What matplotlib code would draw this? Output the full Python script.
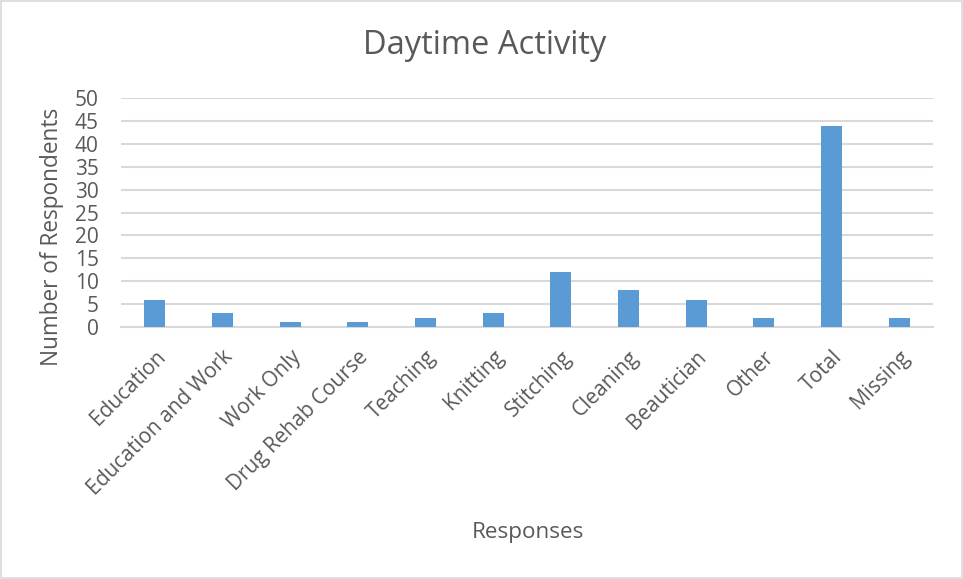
import matplotlib
matplotlib.use("Agg")
from matplotlib import pyplot as plt
import numpy as np

plt.rcParams['font.family'] = ['Open Sans', 'DejaVu Sans']

categories = ['Education', 'Education and Work', 'Work Only', 'Drug Rehab Course',
              'Teaching', 'Knitting', 'Stitching', 'Cleaning', 'Beautician',
              'Other', 'Total', 'Missing']
counts = [6, 3, 1, 1, 2, 3, 12, 8, 6, 2, 44, 2]
yticks = [0, 5, 10, 15, 20, 25, 30, 35, 40, 45, 50]

grey = '#595959'
grid = '#d9d9d9'
blue = '#5b9bd5'

fig = plt.figure(figsize=(9.63, 5.79), dpi=100)
ax = fig.add_axes([0.1257, 0.4352, 0.8433, 0.3955])

x = np.arange(len(categories))
ax.bar(x, counts, 0.31, color=blue, zorder=3)

ax.set_xlim(-0.5, len(categories) - 0.5)
ax.set_ylim(0, 50)
ax.set_yticks(yticks)
ax.set_xticks(x)
ax.set_xticklabels(categories, rotation=45, ha='right', rotation_mode='anchor')

ax.yaxis.grid(True, color=grid, linewidth=1.5, zorder=0)
for s in ['top', 'right', 'left']:
    ax.spines[s].set_visible(False)
ax.spines['bottom'].set_color(grid)
ax.spines['bottom'].set_linewidth(1.5)
ax.tick_params(axis='both', length=0, colors=grey, labelsize=15)
ax.tick_params(axis='x', pad=14)
ax.tick_params(axis='y', pad=16)

# axis titles and chart title
fig.text(52 / 963, 1 - 237 / 579, 'Number of Respondents', rotation=90,
         color=grey, fontsize=16.3, ha='center', va='center')
fig.text(0.548, 0.081, 'Responses', color=grey, fontsize=16.2, ha='center', va='center')
fig.text(0.503, 0.922, 'Daytime Activity', color=grey, fontsize=23.5, ha='center', va='center')

# thin frame round the chart area
fig.patches.append(plt.Rectangle((0.001, 0.001), 0.998, 0.997, transform=fig.transFigure,
                                 fill=False, edgecolor='#d9d9d9', linewidth=1.2))

fig.savefig('out.png', dpi=100)
